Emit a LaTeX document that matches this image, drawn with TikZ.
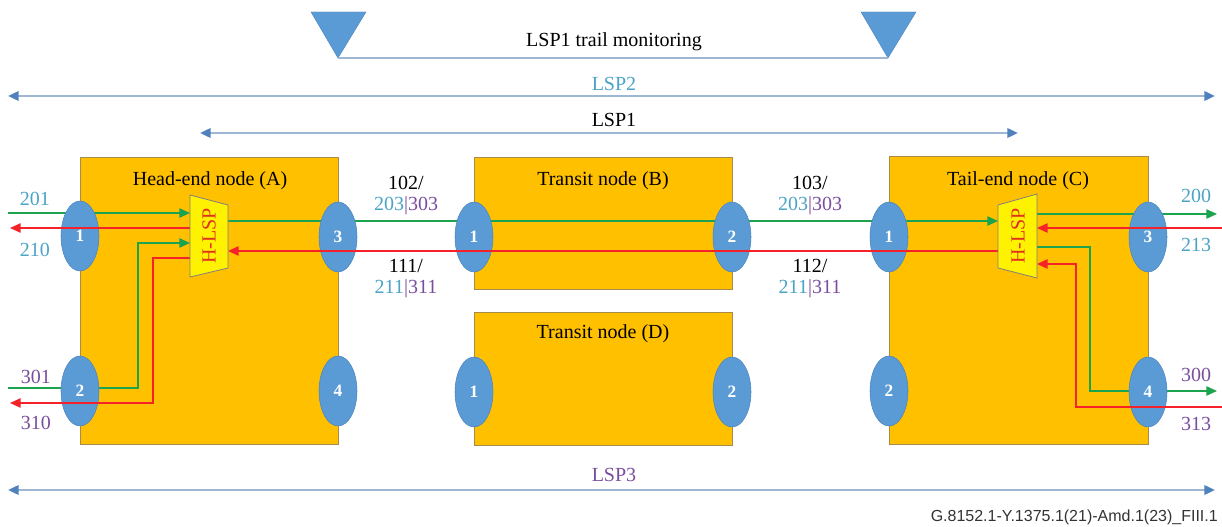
\documentclass[tikz,border=0pt]{standalone}
\usepackage{fontspec}
\setmainfont{Liberation Serif}
\setsansfont{Liberation Sans}
\usetikzlibrary{shapes.geometric,arrows.meta}
\definecolor{boxfill}{HTML}{FFC000}
\definecolor{boxline}{HTML}{A68B4A}
\definecolor{portfill}{HTML}{5B9BD5}
\definecolor{portline}{HTML}{4A84C0}
\definecolor{grn}{HTML}{1BA34E}
\definecolor{rd}{HTML}{F5222A}
\definecolor{lblue}{HTML}{4BA3C6}
\definecolor{lpurp}{HTML}{7A4E9E}
\definecolor{lspline}{HTML}{9DB7D5}
\definecolor{lsptip}{HTML}{4F81BD}
\definecolor{hltext}{HTML}{E0301E}
\definecolor{hlline}{HTML}{7F7F7F}
\begin{document}
\begin{tikzpicture}[x=0.75pt,y=-0.75pt,
  txt/.style={font=\fontsize{15}{17}\selectfont, inner sep=0pt},
  box/.style={draw=boxline, fill=boxfill, line width=0.6pt, inner sep=0pt, rectangle},
  port/.style={ellipse, fill=portfill, draw=portline, line width=0.4pt, minimum width=28.5pt, minimum height=52.5pt, inner sep=0pt, text=white, font=\fontsize{13}{13}\selectfont\bfseries},
  gline/.style={draw=grn, line width=1.2pt},
  rline/.style={draw=rd, line width=1.2pt},
  tip/.style={-{Triangle[length=8pt,width=7pt]}},
  lsp/.style={draw=lspline, line width=1.8pt, {Triangle[length=8pt,width=7pt,color=lsptip]}-{Triangle[length=8pt,width=7pt,color=lsptip]}},
  hlsp/.style={fill=yellow, draw=hlline, line width=0.6pt},
  hltxt/.style={txt, text=hltext, rotate=90},
  tri/.style={fill=portfill, draw=portline, line width=0.3pt},
  trail/.style={draw=lspline, line width=1.8pt},
  bl/.style={txt, text=lblue},
  pu/.style={txt, text=lpurp}
]
\useasboundingbox (0,0) rectangle (1222,527);

% top trail monitoring
\coordinate (tl) at (338,58);
\coordinate (tr) at (888,58);
\draw[tri] (311,12) -- (366,12) -- (tl) -- cycle;
\draw[tri] (861,12) -- (916,12) -- (tr) -- cycle;
\draw[trail] (tl) -- (tr);
\node[txt] (trailtxt) at (614,42) {LSP1 trail monitoring};

% LSP arrows
\coordinate (L2a) at (8,96);
\coordinate (L2b) at (1215,96);
\draw[lsp] (L2a) -- (L2b);
\node[bl] (lsp2) at (614,84) {LSP2};
\coordinate (L1a) at (200,133);
\coordinate (L1b) at (1018,133);
\draw[lsp] (L1a) -- (L1b);
\node[txt] (lsp1) at (614,120) {LSP1};
\coordinate (L3a) at (8,490);
\coordinate (L3b) at (1215,490);
\draw[lsp] (L3a) -- (L3b);
\node[pu] (lsp3) at (614,475) {LSP3};

% boxes
\node[box, minimum width=193.5pt, minimum height=215.25pt] (A) at (209,300.5) {};
\node[box, minimum width=193.5pt, minimum height=99pt] (B) at (603,223) {};
\node[box, minimum width=194.25pt, minimum height=216pt] (C) at (1018.5,300) {};
\node[box, minimum width=193.5pt, minimum height=99.75pt] (D) at (603,378.5) {};
\node[txt] (At) at (210,181) {Head-end node (A)};
\node[txt] (Bt) at (603,181) {Transit node (B)};
\node[txt] (Ct) at (1018,181) {Tail-end node (C)};
\node[txt] (Dt) at (603,334) {Transit node (D)};

% coordinates
\coordinate (A-g1s) at (8,213);   \coordinate (hA-g1) at (190,213);
\coordinate (hA-r1) at (190,228); \coordinate (A-r1e) at (10,228);
\coordinate (A-g2s) at (8,388);   \coordinate (hA-g2) at (190,243);
\coordinate (hA-r2) at (190,258); \coordinate (A-r2e) at (10,403);
\coordinate (hA-go) at (228,221); \coordinate (hC-gi) at (998,221);
\coordinate (hC-ro) at (998,251); \coordinate (hA-ri) at (228,251);
\coordinate (hC-g1) at (1037,214); \coordinate (C-g1e) at (1217,214);
\coordinate (C-r1s) at (1222,228); \coordinate (hC-r1) at (1037,228);
\coordinate (hC-g2) at (1037,247); \coordinate (C-g2e) at (1217,391);
\coordinate (C-r2s) at (1222,407); \coordinate (hC-r2) at (1037,264);

% green lines
\draw[gline,tip] (A-g1s) -- (hA-g1);
\draw[gline,tip] (A-g2s) -- (138,388) -- (138,243) -- (hA-g2);
\draw[gline,tip] (hA-go) -- (hC-gi);
\draw[gline,tip] (hC-g1) -- (C-g1e);
\draw[gline,tip] (hC-g2) -- (1090,247) -- (1090,391) -- (C-g2e);

% ports
\node[port] (A1) at (80,236) {1};
\node[port] (A2) at (80,391) {2};
\node[port] (A3) at (338,237) {3};
\node[port] (A4) at (338,391) {4};
\node[port] (B1) at (474,237) {1};
\node[port] (B2) at (732,237) {2};
\node[port] (D1) at (474,392) {1};
\node[port] (D2) at (732,392) {2};
\node[port] (C1) at (889,237) {1};
\node[port] (C2) at (889,391) {2};
\node[port] (C3) at (1148,237) {3};
\node[port] (C4) at (1148,392) {4};

% red lines
\draw[rline,tip] (hA-r1) -- (A-r1e);
\draw[rline,tip] (hA-r2) -- (153,258) -- (153,403) -- (A-r2e);
\draw[rline,tip] (hC-ro) -- (hA-ri);
\draw[rline,tip] (C-r1s) -- (hC-r1);
\draw[rline,tip] (C-r2s) -- (1076,407) -- (1076,264) -- (hC-r2);

% H-LSP
\draw[hlsp] (190,195) -- (228,205) -- (228,268) -- (190,277) -- cycle;
\node[hltxt] (hA) at (209,236) {H-LSP};
\draw[hlsp] (998,205) -- (1037,194) -- (1037,278) -- (998,268) -- cycle;
\node[hltxt] (hC) at (1018,236) {H-LSP};

% labels
\node[bl] (l201) at (35,199) {201};
\node[bl] (l210) at (35,250) {210};
\node[pu] (l301) at (36,377) {301};
\node[pu] (l310) at (36,423) {310};
\node[txt] (l102) at (406,183) {102/};
\node[txt] (l203a) at (406,206) {\textcolor{lblue}{203}\textcolor{lpurp}{|303}};
\node[txt] (l111) at (406,266) {111/};
\node[txt] (l211a) at (406,289) {\textcolor{lblue}{211}\textcolor{lpurp}{|311}};
\node[txt] (l103) at (810,183) {103/};
\node[txt] (l203b) at (810,206) {\textcolor{lblue}{203}\textcolor{lpurp}{|303}};
\node[txt] (l112) at (810,266) {112/};
\node[txt] (l211b) at (810,289) {\textcolor{lblue}{211}\textcolor{lpurp}{|311}};
\node[bl] (l200) at (1196,196) {200};
\node[bl] (l213) at (1196,245) {213};
\node[pu] (l300) at (1196,375) {300};
\node[pu] (l313) at (1196,424) {313};

\node[font=\sffamily\fontsize{12}{14}\selectfont, anchor=east, inner sep=0pt, text=black!80] (fig) at (1218,517) {G.8152.1-Y.1375.1(21)-Amd.1(23)\_FIII.1};
\end{tikzpicture}
\end{document}
